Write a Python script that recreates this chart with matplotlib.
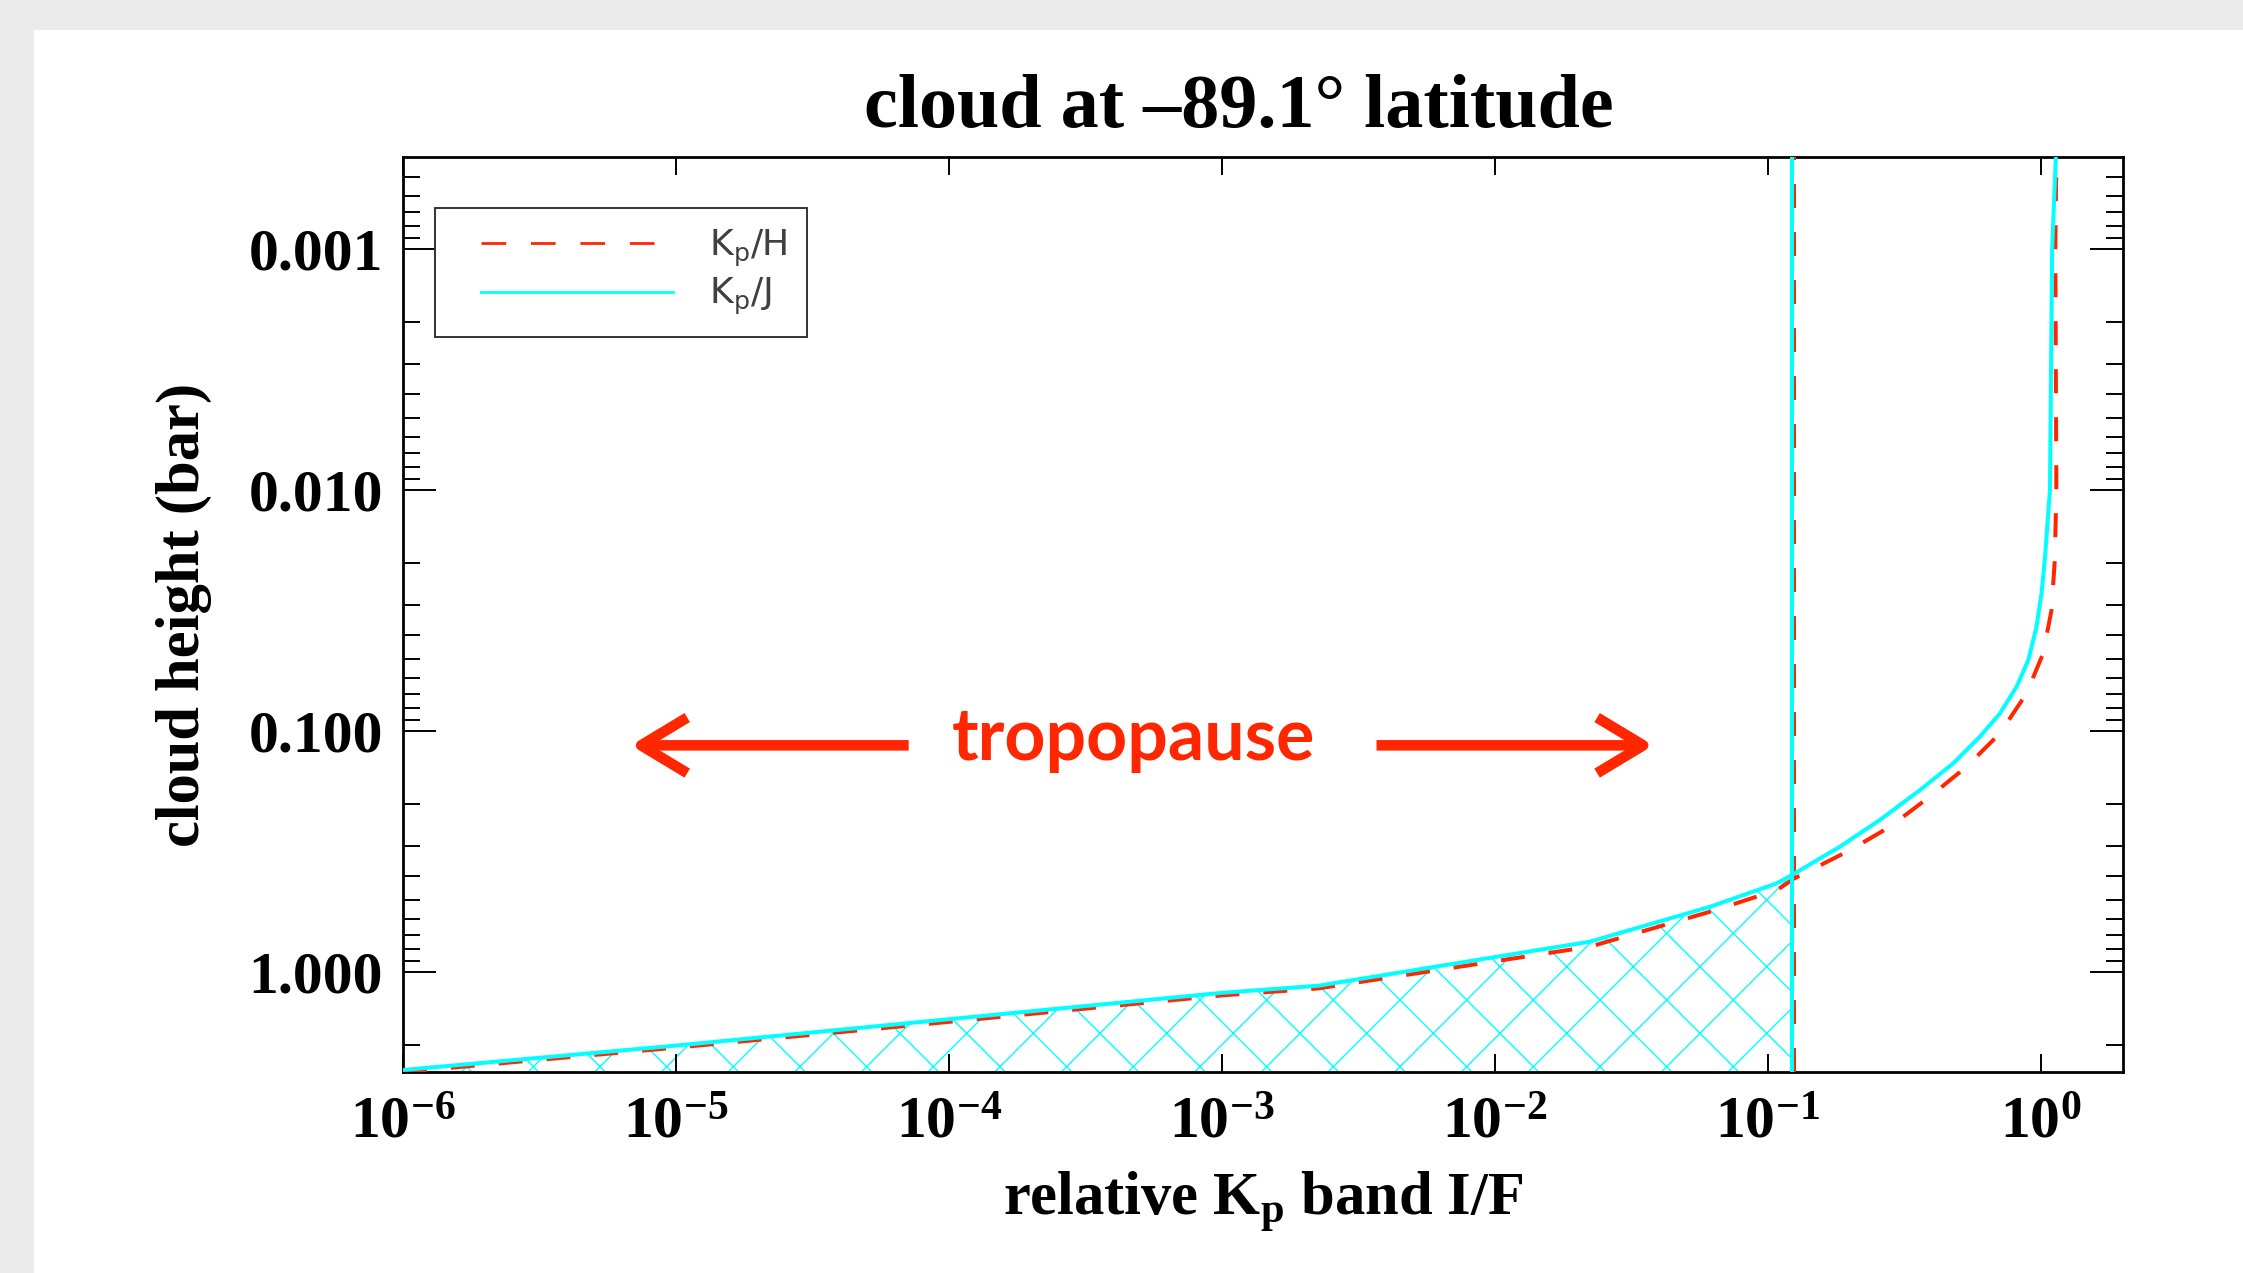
import numpy as np
import matplotlib
matplotlib.use('Agg')
import matplotlib.pyplot as plt
from matplotlib.ticker import LogLocator, NullFormatter, NullLocator
from matplotlib.lines import Line2D
from matplotlib.legend_handler import HandlerLine2D
from matplotlib.patches import Rectangle
from matplotlib.font_manager import FontProperties

# ---------------- data ----------------
kph_if = [1.0e-6, 1.0e-5, 1.0e-4, 1.0e-3, 2.25e-3, 2.23e-2, 6.14e-2, 0.108,
          0.1248, 0.200, 0.280, 0.392, 0.534, 0.708, 0.886, 1.020, 1.094, 1.125,
          1.14, 1.13, 1.14]
kph_p = [2.60, 2.06, 1.61, 1.25, 1.17, 0.785, 0.562, 0.457,
         0.409, 0.312, 0.2495, 0.187, 0.1406, 0.1022, 0.0698, 0.0476, 0.0315, 0.0195,
         0.010, 0.001, 4.14e-4]

kpj_if = [1.0e-6, 1.0e-5, 1.0e-4, 1.0e-3, 2.25e-3, 2.23e-2, 6.14e-2, 0.108,
          0.1223, 0.1835, 0.257, 0.360, 0.478, 0.598, 0.708, 0.815, 0.900, 0.964,
          1.006, 1.034, 1.08, 1.10, 1.135]
kpj_p = [2.55, 2.02, 1.57, 1.22, 1.14, 0.748, 0.536, 0.428,
         0.396, 0.302, 0.234, 0.176, 0.136, 0.1055, 0.0845, 0.0655, 0.0507, 0.0369,
         0.0268, 0.0195, 0.010, 0.001, 4.14e-4]

kph_cut = 0.1248     # vertical Kp/H line
kpj_cut = 0.1223     # vertical Kp/J line (edge of hatched region)

x_exponents = [-6, -5, -4, -3, -2, -1, 0]
x_ticks = [10.0 ** e for e in x_exponents]
x_tick_labels = [r'$\mathbf{10^{%d}}$' % e for e in x_exponents]
y_ticks = [0.001, 0.01, 0.1, 1.0]
y_tick_labels = ['0.001', '0.010', '0.100', '1.000']

series_labels = [r'K$_\mathregular{p}$/H', r'K$_\mathregular{p}$/J']
title_text = 'cloud at \u201389.1\u00b0 latitude'
xlabel_text = r'relative K$_{\mathbf{p}}$ band I/F'
ylabel_text = 'cloud height (bar)'
note_text = 'tropopause'

# ---------------- style ----------------
W, H, DPI = 2243, 1273, 200
RED = '#ff2600'
CYAN = '#00ffff'
LW = 1.44
DASH = (6.0, 6.0)

plt.rcParams['font.family'] = 'Liberation Serif'
plt.rcParams['font.weight'] = 'bold'
plt.rcParams['mathtext.fontset'] = 'custom'
plt.rcParams['mathtext.rm'] = 'Liberation Serif:bold'
plt.rcParams['mathtext.bf'] = 'Liberation Serif:bold'
plt.rcParams['mathtext.it'] = 'Liberation Serif:bold'
plt.rcParams['hatch.linewidth'] = 0.5

fig = plt.figure(figsize=(W / DPI, H / DPI), dpi=DPI, facecolor='#ebebeb')
fig.patches.append(Rectangle((34 / W, 0), 1, 1 - 30 / H, transform=fig.transFigure,
                             facecolor='white', edgecolor='none', zorder=-10))

ax = fig.add_axes([403 / W, 1 - 1072 / H, 1720 / W, 915 / H])
ax.set_xscale('log')
ax.set_yscale('log')
ax.set_xlim(1e-6, 2.0)
ax.set_ylim(2.6, 4.14e-4)

# hatched region under Kp/J curve, left of its vertical line
n_h = sum(1 for v in kpj_if if v <= kpj_cut)
ax.fill_between(kpj_if[:n_h], kpj_p[:n_h], 10, facecolor='none', edgecolor=CYAN,
                hatch='x', linewidth=0, zorder=1)

ax.plot(kph_if, kph_p, color=RED, lw=LW, dashes=DASH, label=series_labels[0], zorder=3)
ax.plot(kpj_if, kpj_p, color=CYAN, lw=LW, label=series_labels[1], zorder=4)
ax.axvline(kph_cut, color=RED, lw=LW, dashes=DASH, zorder=3)
ax.axvline(kpj_cut, color=CYAN, lw=LW, zorder=4)

# ticks
ax.set_xticks(x_ticks, labels=x_tick_labels)
ax.xaxis.set_minor_locator(NullLocator())
ax.set_yticks(y_ticks, labels=y_tick_labels)
ax.yaxis.set_minor_locator(LogLocator(base=10, subs=np.arange(2, 10)))
ax.yaxis.set_minor_formatter(NullFormatter())
px = 72 / DPI
ax.tick_params(axis='x', which='major', direction='in', length=18 * px, width=0.7,
               top=True, bottom=True, pad=9, labelsize=21.5)
ax.tick_params(axis='y', which='major', direction='in', length=33 * px, width=0.7,
               left=True, right=True, pad=7.2, labelsize=21.5)
ax.tick_params(axis='y', which='minor', direction='in', length=17 * px, width=0.7,
               left=True, right=True)
for s in ax.spines.values():
    s.set_linewidth(1.0)

# labels
ax.set_xlabel(xlabel_text, fontsize=21.8, fontweight='bold')
ax.xaxis.label.set_va('baseline')
ax.xaxis.set_label_coords(0.5, -0.1563)
ax.set_ylabel(ylabel_text, fontsize=21.8, fontweight='bold')
ax.yaxis.set_label_coords(-0.1110, 0.5)
fig.text(1239 / W, 1 - 127 / H, title_text, ha='center', va='baseline',
         fontsize=27.4, fontweight='bold')


# legend
class OffsetLineHandler(HandlerLine2D):
    def __init__(self, offset, **kw):
        super().__init__(**kw)
        self.offset = offset

    def create_artists(self, legend, orig_handle, xdescent, ydescent, width,
                       height, fontsize, trans):
        arts = super().create_artists(legend, orig_handle, xdescent, ydescent,
                                      width, height, fontsize, trans)
        for a in arts:
            if isinstance(a, Line2D) and a.get_linestyle() not in ('None', 'none', ''):
                xd = np.asarray(a.get_xdata(), float)
                if len(xd) >= 2:
                    a.set_xdata(np.linspace(xd[0] + self.offset, xd[-1], len(xd)))
        return arts


h_red = Line2D([], [], color=RED, lw=1.0, dashes=(8.9, 8.9))
h_cyan = Line2D([], [], color=CYAN, lw=1.0)
leg_prop = FontProperties(family='DejaVu Sans', weight='normal', size=13,
                          math_fontfamily='dejavusans')
hm = OffsetLineHandler(26 * px)
leg = ax.legend([h_red, h_cyan], series_labels, loc='upper left',
                bbox_to_anchor=(32 / 1720, (1072 - 208) / 915), borderaxespad=0,
                borderpad=0.55, labelspacing=0.2, handlelength=6.05,
                handletextpad=0.98, prop=leg_prop, labelcolor='#404040',
                fancybox=False, edgecolor='#333333', framealpha=1,
                handler_map={h_red: hm, h_cyan: hm})
leg.get_frame().set_linewidth(0.7)

# tropopause annotation
ax.text(0.4244, 0.341, note_text, transform=ax.transAxes, ha='center', va='baseline',
        color=RED, fontsize=25.8, fontfamily='Lato', fontweight='bold')
arrow_kw = dict(arrowstyle='->,head_length=16.6,head_width=10', color=RED, lw=3.8,
                mutation_scale=1, shrinkA=0, shrinkB=0, joinstyle='round',
                capstyle='butt')
ax.annotate('', xy=(0.1325, 0.357), xytext=(0.294, 0.357), xycoords='axes fraction',
            textcoords='axes fraction', arrowprops=arrow_kw)
ax.annotate('', xy=(0.727, 0.357), xytext=(0.566, 0.357), xycoords='axes fraction',
            textcoords='axes fraction', arrowprops=arrow_kw)

fig.savefig('out.png', dpi=DPI, facecolor=fig.get_facecolor())
